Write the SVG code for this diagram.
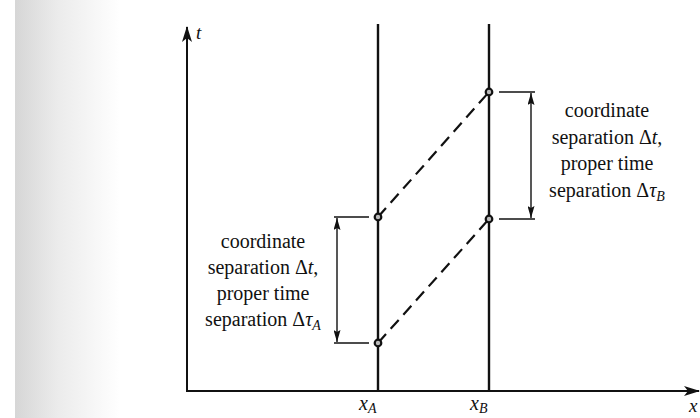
<svg xmlns="http://www.w3.org/2000/svg" width="700" height="418" viewBox="0 0 700 418">
<defs>
<linearGradient id="scan" x1="0" y1="0" x2="1" y2="0">
<stop offset="0" stop-color="#d6d6d6"/>
<stop offset="0.4" stop-color="#ebebeb"/>
<stop offset="1" stop-color="#ffffff"/>
</linearGradient>
<marker id="axArrow" viewBox="0 0 16 10" refX="15" refY="5" markerWidth="16" markerHeight="10" markerUnits="userSpaceOnUse" orient="auto">
<path d="M0,0 L16,5 L0,10 L4,5 Z" fill="#111"/>
</marker>
<marker id="dimArrow" viewBox="0 0 12 7" refX="12" refY="3.5" markerWidth="12" markerHeight="7" markerUnits="userSpaceOnUse" orient="auto-start-reverse">
<path d="M0,0 L12,3.5 L0,7 L2,3.5 Z" fill="#111"/>
</marker>
</defs>
<style>
.axis{stroke:#111;stroke-width:2;fill:none}
.world{stroke:#111;stroke-width:2.4;fill:none}
.dash{stroke:#111;stroke-width:2.2;stroke-dasharray:12 7;fill:none}
.tick{stroke:#111;stroke-width:1.6;fill:none}
.dim{stroke:#111;stroke-width:1.4;fill:none}
.dot{fill:#bbb;stroke:#111;stroke-width:2.2}
.lbl{font-family:"Liberation Serif","Times New Roman",serif;font-size:20px;fill:#111;text-anchor:middle}
.var{font-family:"Liberation Serif","Times New Roman",serif;font-style:italic;fill:#111}
</style>
<rect x="0" y="0" width="700" height="418" fill="#fff"/>
<rect x="15" y="0" width="105" height="418" fill="url(#scan)"/>

<g id="axes">
<line class="axis" x1="187" y1="392" x2="187" y2="27" marker-end="url(#axArrow)"/>
<line class="axis" x1="186" y1="391" x2="699" y2="391" marker-end="url(#axArrow)"/>
<text class="var" x="196" y="39" font-size="19">t</text>
<text class="var" x="689" y="412" font-size="19">x</text>
</g>

<g id="worldline-A">
<line class="world" x1="378" y1="24" x2="378" y2="391"/>
<text class="var" x="359" y="410" font-size="20">x<tspan font-size="14" dy="3">A</tspan></text>
</g>

<g id="worldline-B">
<line class="world" x1="489" y1="24" x2="489" y2="391"/>
<text class="var" x="470" y="410" font-size="20">x<tspan font-size="14" dy="3">B</tspan></text>
</g>

<g id="connectors">
<line class="dash" x1="378" y1="217" x2="489" y2="92"/>
<line class="dash" x1="378" y1="343" x2="489" y2="219"/>
</g>

<g id="events">
<circle class="dot" cx="378" cy="217" r="3.3"/>
<circle class="dot" cx="378" cy="343" r="3.3"/>
<circle class="dot" cx="489" cy="92" r="3.3"/>
<circle class="dot" cx="489" cy="219" r="3.3"/>
</g>

<g id="interval-A">
<line class="tick" x1="334" y1="217" x2="369" y2="217"/>
<line class="tick" x1="334" y1="343" x2="369" y2="343"/>
<line class="dim" x1="337" y1="218" x2="337" y2="342" marker-start="url(#dimArrow)" marker-end="url(#dimArrow)"/>
<text class="lbl" x="263" y="248">coordinate</text>
<text class="lbl" x="263" y="274">separation Δ<tspan font-style="italic">t</tspan>,</text>
<text class="lbl" x="263" y="300">proper time</text>
<text class="lbl" x="263" y="326">separation Δ<tspan font-style="italic">τ</tspan><tspan font-style="italic" font-size="14" dy="4">A</tspan></text>
</g>

<g id="interval-B">
<line class="tick" x1="499" y1="92" x2="535" y2="92"/>
<line class="tick" x1="499" y1="219" x2="535" y2="219"/>
<line class="dim" x1="531" y1="93" x2="531" y2="218" marker-start="url(#dimArrow)" marker-end="url(#dimArrow)"/>
<text class="lbl" x="607" y="117">coordinate</text>
<text class="lbl" x="607" y="144">separation Δ<tspan font-style="italic">t</tspan>,</text>
<text class="lbl" x="607" y="170">proper time</text>
<text class="lbl" x="607" y="197">separation Δ<tspan font-style="italic">τ</tspan><tspan font-style="italic" font-size="14" dy="4">B</tspan></text>
</g>
</svg>
